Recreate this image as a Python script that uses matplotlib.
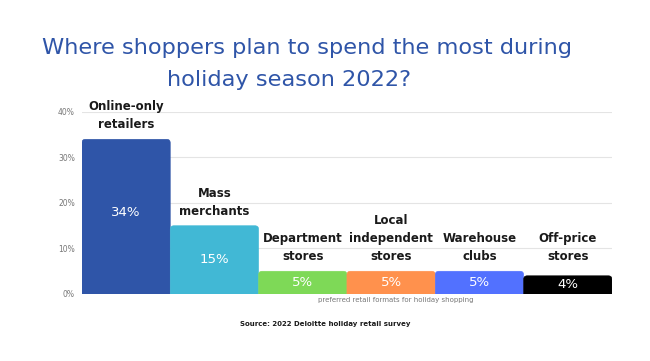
import matplotlib.pyplot as plt
from matplotlib.patches import FancyBboxPatch
import numpy as np

# Data
categories = ['Online-only\nretailers', 'Mass\nmerchants', 'Department\nstores',
              'Local\nindependent\nstores', 'Warehouse\nclubs', 'Off-price\nstores']
values = [34, 15, 5, 5, 5, 4]
colors = ['#2f55a8', '#41b8d5', '#7ed957', '#ff914d', '#5271ff', '#000000']
yticks = [0, 10, 20, 30, 40]

plt.rcParams['font.family'] = ['DejaVu Sans']

fig = plt.figure(figsize=(6.5, 3.61), dpi=100)
ax = fig.add_axes([0.126, 0.1856, 0.8155, 0.5042])
ax.set_xlim(-0.5, 5.5)
ax.set_ylim(0, 40)

x = np.arange(len(values))
bars = ax.bar(x, values, width=1.0, color=colors, zorder=2)

# swap the plain bars for ones with rounded top corners
for b in bars:
    b.set_visible(False)
    r = FancyBboxPatch((b.get_x(), -1.5), b.get_width(), b.get_height() + 1.5,
                       boxstyle='round,pad=0,rounding_size=0.04', mutation_aspect=19.3,
                       facecolor=b.get_facecolor(), edgecolor=b.get_facecolor(),
                       linewidth=0.4, zorder=2)
    ax.add_patch(r)

# labels above bars and values inside
for xi, v, cat in zip(x, values, categories):
    ax.text(xi, max(v, 5) + 1.8, cat, ha='center', va='bottom', fontsize=8.5,
            fontweight='bold', color='#1a1a1a', linespacing=1.5, clip_on=False)
    ax.text(xi, v / 2 + (1.0 if v > 20 else 0), f'{v}%', ha='center', va='center',
            fontsize=9.5, color='white')

ax.set_yticks(yticks)
ax.set_yticklabels([f'{t}%' for t in yticks], fontsize=5.5, color='#777777')
ax.set_xticks([])
ax.tick_params(axis='y', length=0, pad=5)
ax.grid(axis='y', color='#e4e4e4', linewidth=0.8, zorder=0)
for s in ax.spines.values():
    s.set_visible(False)

ax.text(3.05, -0.6, 'preferred retail formats for holiday shopping', ha='center', va='top',
        fontsize=5, color='#777777', transform=ax.transData)

fig.text(0.472, 0.866, 'Where shoppers plan to spend the most during', ha='center', va='center',
         fontsize=16.2, color='#2f55a8')
fig.text(0.257, 0.778, 'holiday season 2022?', ha='left', va='center',
         fontsize=16.2, color='#2f55a8')
fig.text(0.5, 0.103, 'Source: 2022 Deloitte holiday retail survey', ha='center', va='center',
         fontsize=5, fontweight='bold', color='#1a1a1a')

fig.savefig('out.png', dpi=100)
